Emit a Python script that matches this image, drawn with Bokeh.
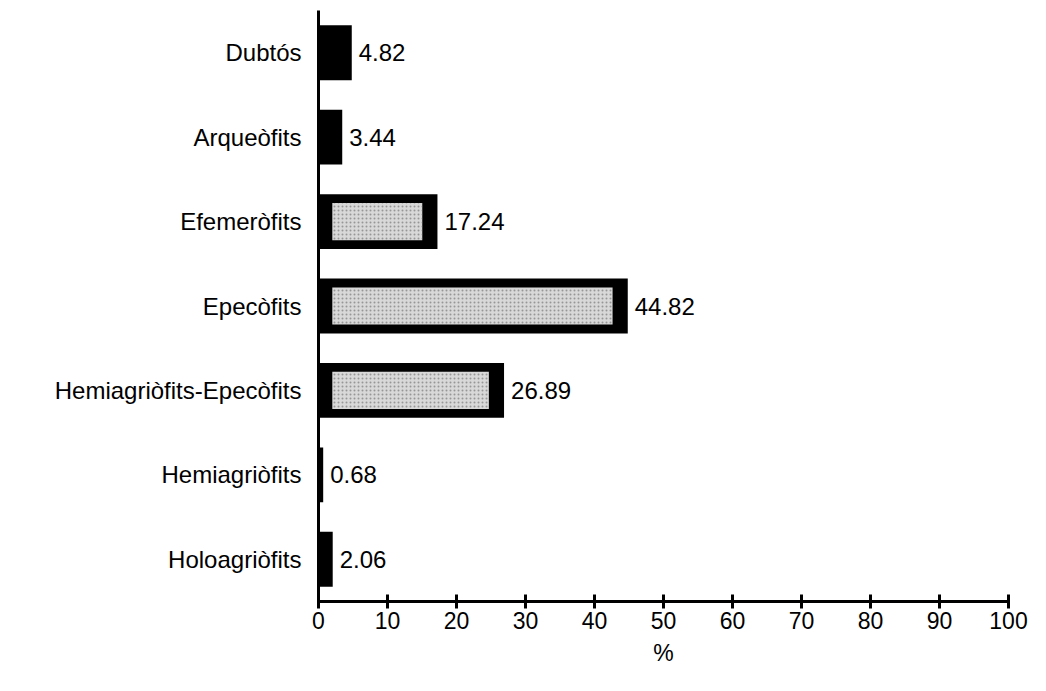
from bokeh.plotting import figure
from bokeh.models import ColumnDataSource, Range1d, FactorRange
from bokeh.core.properties import value
from bokeh.embed import file_html
from bokeh.resources import INLINE
import numpy as np

categories = ["Dubtós", "Arqueòfits", "Efemeròfits", "Epecòfits",
              "Hemiagriòfits-Epecòfits", "Hemiagriòfits", "Holoagriòfits"]
percent = [4.82, 3.44, 17.24, 44.82, 26.89, 0.68, 2.06]
labels = ["4.82", "3.44", "17.24", "44.82", "26.89", "0.68", "2.06"]
x_ticks = [0, 10, 20, 30, 40, 50, 60, 70, 80, 90, 100]

vals = np.array(percent)
inner_left = np.full_like(vals, 2.0)
inner_right = np.where(vals > 10, vals - 2.2, inner_left)

src = ColumnDataSource(dict(cat=categories, val=percent, lab=labels,
                            il=inner_left, ir=inner_right))

p = figure(width=1038, height=683, y_range=FactorRange(*reversed(categories)),
           x_range=Range1d(0, 100), output_backend="svg", toolbar_location=None,
           min_border_left=318, min_border_right=30, min_border_top=10,
           min_border_bottom=82)
p.outline_line_color = None
p.xgrid.visible = False
p.ygrid.visible = False
p.y_range.range_padding = 0.0

p.hbar(y="cat", left=0, right="val", height=0.65, source=src,
       fill_color="black", line_color=None)
p.hbar(y="cat", left="il", right="ir", height=0.44, source=src,
       fill_color="#d8d8d8", line_color=None,
       hatch_pattern="dot", hatch_color="#6a6a6a", hatch_scale=4, hatch_alpha=0.6)

p.text(x="val", y="cat", text="lab", source=src, x_offset=7,
       text_font=value("Liberation Sans"), text_font_size="24px",
       text_baseline="middle", text_align="left", text_color="black")

font = "Liberation Sans"
p.xaxis.ticker = x_ticks
p.xaxis.axis_label = "%"
p.xaxis.axis_label_text_font = font
p.xaxis.axis_label_text_font_size = "23px"
p.xaxis.axis_label_text_font_style = "normal"
p.xaxis.axis_label_text_color = "black"
p.xaxis.axis_label_standoff = 8
p.xaxis.major_label_text_font = font
p.xaxis.major_label_text_font_size = "23px"
p.xaxis.major_label_text_color = "black"
p.xaxis.major_label_standoff = 3
p.xaxis.axis_line_width = 3
p.xaxis.major_tick_line_width = 3
p.xaxis.major_tick_in = 7
p.xaxis.major_tick_out = 7
p.xaxis.minor_tick_line_color = None

p.yaxis.axis_line_width = 3
p.yaxis.major_tick_line_color = None
p.yaxis.minor_tick_line_color = None
p.yaxis.major_label_text_font = font
p.yaxis.major_label_text_font_size = "24px"
p.yaxis.major_label_text_color = "black"
p.yaxis.major_label_standoff = 11

open("out.html", "w").write(file_html(p, INLINE))
